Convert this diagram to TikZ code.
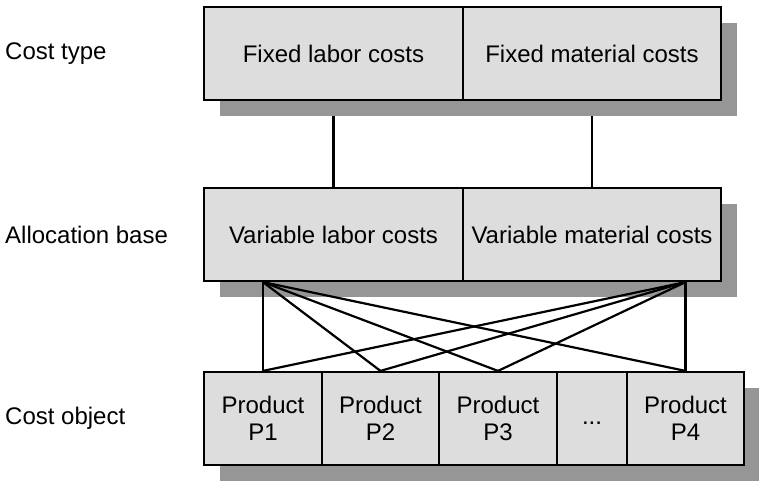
\documentclass[tikz,border=0pt]{standalone}
\usepackage{fontspec}
\setmainfont{Liberation Sans}
\usetikzlibrary{backgrounds}
\definecolor{boxfill}{RGB}{221,221,221}
\definecolor{shadowgray}{RGB}{150,150,150}
\begin{document}
\begin{tikzpicture}[x=1pt,y=-1pt,
  cbox/.style={draw=black,line width=2.2pt,fill=boxfill,rectangle,inner sep=0pt,
    minimum height=93pt,font=\fontsize{24}{27}\selectfont,align=center},
  link/.style={line width=2.2pt,draw=black},
  shade/.style={fill=shadowgray},
  rowlabel/.style={anchor=west,inner sep=0pt,font=\fontsize{24}{27}\selectfont}]
\useasboundingbox (0,0) rectangle (759,480);

% row labels
\node[rowlabel] (lt) at (5,53.5) {Cost type};
\node[rowlabel] (la) at (5,234.5) {Allocation base};
\node[rowlabel] (lo) at (5,418.5) {Cost object};

% top row
\node[cbox,minimum width=259pt] (fl) at (333.5,53.5) {Fixed labor costs};
\node[cbox,minimum width=258pt] (fm) at (592,53.5) {Fixed material costs};

% middle row
\node[cbox,minimum width=259pt] (vl) at (333.5,234.5) {Variable labor costs};
\node[cbox,minimum width=258pt] (vm) at (592,234.5) {Variable material costs};

% bottom row
\node[cbox,minimum width=118pt] (p1) at (263,418.5) {Product\\P1};
\node[cbox,minimum width=117pt] (p2) at (380.5,418.5) {Product\\P2};
\node[cbox,minimum width=118pt] (p3) at (498,418.5) {Product\\P3};
\node[cbox,minimum width=70pt] (pd) at (592,418.5) {...\vphantom{o}};
\node[cbox,minimum width=117pt] (p4) at (685.5,418.5) {Product\\P4};

\begin{pgfonlayer}{background}
  \draw[link] (fl.south) -- (vl.north);
  \draw[link] (fm.south) -- (vm.north);
  \fill[shade] (220,23) rectangle (737,116);
  \fill[shade] (220,204) rectangle (737,297);
  \fill[shade] (220,388) rectangle (760,481);
\end{pgfonlayer}

% allocation connectors
\coordinate (al) at (vl.south -| p1.north);
\coordinate (ar) at (vm.south -| p4.north);
\draw[link] (al) -- (p1.north);
\draw[link] (al) -- (p2.north);
\draw[link] (al) -- (p3.north);
\draw[link] (al) -- (p4.north);
\draw[link] (ar) -- (p1.north);
\draw[link] (ar) -- (p2.north);
\draw[link] (ar) -- (p3.north);
\draw[link] (ar) -- (p4.north);
\end{tikzpicture}
\end{document}
